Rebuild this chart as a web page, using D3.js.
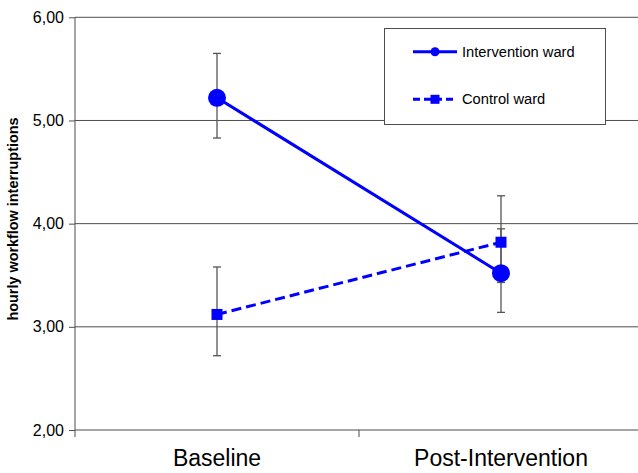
<!DOCTYPE html>
<html>
<head>
<meta charset="utf-8">
<script src="https://cdn.jsdelivr.net/npm/d3@7"></script>
<style>
  body { margin: 0; background: #fff; }
  svg { display: block; font-family: "Liberation Sans", Arial, sans-serif; }
</style>
</head>
<body>
<svg id="chart" width="638" height="473"></svg>
<script>
// Data
const phases = ["Baseline", "Post-Intervention"];
const seriesNames = ["Intervention ward", "Control ward"];
const interventionMean = [5.22, 3.52];
const interventionLow = [4.83, 3.14];
const interventionHigh = [5.65, 3.95];
const controlMean = [3.12, 3.82];
const controlLow = [2.72, 3.43];
const controlHigh = [3.58, 4.27];
const yTicks = [2, 3, 4, 5, 6];

const series = [
    { name: seriesNames[0], mean: interventionMean, low: interventionLow, high: interventionHigh, dash: null, shape: "circle" },
    { name: seriesNames[1], mean: controlMean, low: controlLow, high: controlHigh, dash: "10,5", shape: "square" }
];

const svg = d3.select("#chart");
const plotLeft = 75, plotRight = 643, plotTop = 17.3, plotBottom = 430;

const x = d3.scaleBand().domain(phases).range([plotLeft, plotRight]);
const y = d3.scaleLinear().domain([2, 6]).range([plotBottom, plotTop]);

// Gridlines
svg.append("g").selectAll("line")
    .data(yTicks)
    .enter().append("line")
    .attr("x1", plotLeft).attr("x2", 638)
    .attr("y1", d => y(d)).attr("y2", d => y(d))
    .attr("stroke", "#4d4d4d").attr("stroke-width", 1);

// Y axis
const yAxis = svg.append("g")
    .attr("transform", `translate(${plotLeft},0)`)
    .call(d3.axisLeft(y).tickValues(yTicks).tickSize(6).tickFormat(d => d3.format(".2f")(d).replace(".", ",")));
yAxis.select(".domain").attr("stroke", "#4d4d4d").attr("d", `M0,${plotTop}V${plotBottom + 7}`);
yAxis.selectAll(".tick line").attr("stroke", "#4d4d4d");
yAxis.selectAll("text").attr("font-size", 16).attr("fill", "#000").attr("font-family", "Liberation Sans, Arial, sans-serif").attr("x", -11);

// X axis tick at the band boundary
svg.append("g").selectAll("line")
    .data([plotLeft + x.bandwidth()])
    .enter().append("line")
    .attr("x1", d => d).attr("x2", d => d)
    .attr("y1", plotBottom).attr("y2", plotBottom + 7)
    .attr("stroke", "#4d4d4d");

svg.append("g").selectAll("text")
    .data(phases)
    .enter().append("text")
    .attr("x", d => x(d) + x.bandwidth() / 2)
    .attr("y", 466)
    .attr("text-anchor", "middle")
    .attr("font-size", 23)
    .text(d => d);

// Y axis title
svg.append("text")
    .attr("transform", "translate(18,219) rotate(-90)")
    .attr("text-anchor", "middle")
    .attr("font-size", 14.4)
    .attr("font-weight", "bold")
    .text("hourly workflow interruptions");

const cx = d => x(d) + x.bandwidth() / 2;

// Error bars
series.forEach(s => {
    const g = svg.append("g");
    phases.forEach((p, i) => {
        g.append("line")
            .attr("x1", cx(p)).attr("x2", cx(p))
            .attr("y1", y(s.low[i])).attr("y2", y(s.high[i]))
            .attr("stroke", "#555").attr("stroke-width", 1.3);
        [s.low[i], s.high[i]].forEach(v => {
            g.append("line")
                .attr("x1", cx(p) - 4).attr("x2", cx(p) + 4)
                .attr("y1", y(v)).attr("y2", y(v))
                .attr("stroke", "#555").attr("stroke-width", 1.3);
        });
    });
});

// Lines and markers
const line = d3.line().x((d, i) => cx(phases[i])).y(d => y(d));
series.forEach(s => {
    svg.append("path")
        .datum(s.mean)
        .attr("d", line)
        .attr("fill", "none")
        .attr("stroke", "#0000ff")
        .attr("stroke-width", 3)
        .attr("stroke-dasharray", s.dash);
    s.mean.forEach((v, i) => {
        if (s.shape === "circle") {
            svg.append("circle").attr("cx", cx(phases[i])).attr("cy", y(v)).attr("r", 9).attr("fill", "#0000ff");
        } else {
            svg.append("rect").attr("x", cx(phases[i]) - 5.5).attr("y", y(v) - 5.5)
                .attr("width", 11).attr("height", 11).attr("fill", "#0000ff");
        }
    });
});

// Legend
const legend = svg.append("g");
legend.append("rect")
    .attr("x", 384.5).attr("y", 28.5).attr("width", 221).attr("height", 96)
    .attr("fill", "#fff").attr("stroke", "#4d4d4d").attr("stroke-width", 1);
series.forEach((s, i) => {
    const ly = 51.7 + i * 47.6;
    legend.append("line")
        .attr("x1", 413).attr("x2", 457).attr("y1", ly).attr("y2", ly)
        .attr("stroke", "#0000ff").attr("stroke-width", 3)
        .attr("stroke-dasharray", s.dash ? "7,4" : null);
    if (s.shape === "circle") {
        legend.append("circle").attr("cx", 435).attr("cy", ly).attr("r", 4.5).attr("fill", "#0000ff");
    } else {
        legend.append("rect").attr("x", 430.5).attr("y", ly - 4.5).attr("width", 9).attr("height", 9).attr("fill", "#0000ff");
    }
    legend.append("text")
        .attr("x", 462).attr("y", ly + 5)
        .attr("font-size", 14.7)
        .text(s.name);
});
</script>
</body>
</html>
